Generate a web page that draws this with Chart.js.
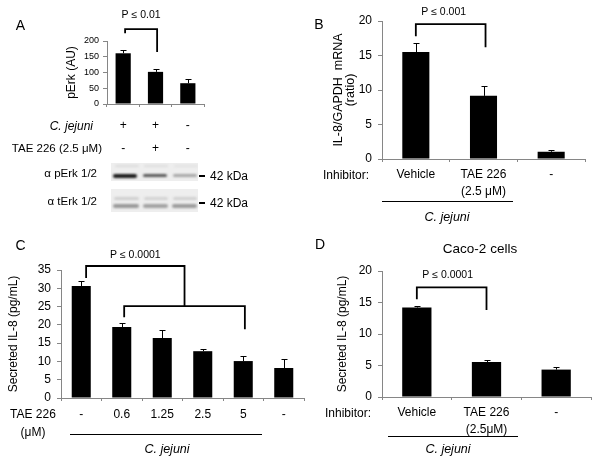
<!DOCTYPE html>
<html><head><meta charset="utf-8">
<script src="https://cdn.jsdelivr.net/npm/chart.js@4"></script>
<style>
html,body{margin:0;padding:0;background:#fff;}
#fig{position:relative;width:603px;height:464px;overflow:hidden;font-family:"Liberation Sans",Arial,sans-serif;color:#000;}
canvas{position:absolute;}
.t{position:absolute;white-space:nowrap;line-height:1;}
.c{transform:translate(-50%,-50%);}
.l{transform:translate(0,-50%);}
.r{transform:translate(-100%,-50%);}
.hl{position:absolute;height:0;border-top:1px solid #000;}
.blot{position:absolute;background:#eeeeee;overflow:hidden;}
.band{position:absolute;border-radius:2px;filter:blur(1px);}
</style></head>
<body>
<div id="fig">
  <canvas id="cA" width="300" height="232" style="left:0;top:0"></canvas>
  <canvas id="cB" width="303" height="232" style="left:300px;top:0"></canvas>
  <canvas id="cC" width="310" height="232" style="left:0;top:232px"></canvas>
  <canvas id="cD" width="303" height="232" style="left:300px;top:232px"></canvas>

  <!-- panel letters -->
  <div class="t c" style="left:20.5px;top:24.5px;font-size:14px">A</div>
  <div class="t c" style="left:319px;top:23.5px;font-size:14px">B</div>
  <div class="t c" style="left:20.5px;top:245px;font-size:14px">C</div>
  <div class="t c" style="left:320px;top:244px;font-size:14px">D</div>

  <!-- panel A row labels and blot -->
  <div class="t r" style="left:93px;top:126px;font-size:12px;font-style:italic">C. jejuni</div>
  <div class="t r" style="left:102px;top:149px;font-size:11.5px">TAE 226 (2.5 μM)</div>
  <div class="t r" style="left:97px;top:174px;font-size:11.5px">α pErk 1/2</div>
  <div class="t r" style="left:97px;top:202px;font-size:11.5px">α tErk 1/2</div>
  <div class="blot" style="left:111px;top:163px;width:87px;height:18px">
    <div class="band" style="left:4px;top:2px;width:24px;height:2px;background:#dcdcdc"></div>
    <div class="band" style="left:33px;top:2px;width:24px;height:2px;background:#dedede"></div>
    <div class="band" style="left:63px;top:2px;width:24px;height:2px;background:#e2e2e2"></div>
    <div class="band" style="left:2px;top:11px;width:24px;height:4px;background:#1c1c1c"></div>
    <div class="band" style="left:32px;top:11px;width:24px;height:3px;background:#5a5a5a"></div>
    <div class="band" style="left:62px;top:11px;width:24px;height:3px;background:#a8a8a8"></div>
  </div>
  <div class="blot" style="left:111px;top:189px;width:87px;height:23px">
    <div class="band" style="left:3px;top:8px;width:25px;height:3px;background:#cfcfcf"></div>
    <div class="band" style="left:33px;top:8px;width:24px;height:3px;background:#d3d3d3"></div>
    <div class="band" style="left:62px;top:8px;width:24px;height:3px;background:#d1d1d1"></div>
    <div class="band" style="left:2px;top:15px;width:26px;height:4px;background:#999999"></div>
    <div class="band" style="left:32px;top:15px;width:25px;height:4px;background:#a2a2a2"></div>
    <div class="band" style="left:61px;top:15px;width:25px;height:4px;background:#9c9c9c"></div>
  </div>
  <div style="position:absolute;left:199px;top:175px;width:6px;height:2px;background:#000"></div>
  <div style="position:absolute;left:199px;top:202px;width:6px;height:2px;background:#000"></div>
  <div class="t l" style="left:210px;top:176px;font-size:12px">42 kDa</div>
  <div class="t l" style="left:210px;top:203px;font-size:12px">42 kDa</div>

  <!-- panel B extras -->
  <div class="t l" style="left:323px;top:175px;font-size:12px">Inhibitor:</div>
  <div class="hl" style="left:382px;top:201px;width:131px"></div>
  <div class="t c" style="left:447px;top:217px;font-size:12.5px;font-style:italic">C. jejuni</div>

  <!-- panel C extras -->
  <div class="t l" style="left:10px;top:414px;font-size:12px">TAE 226</div>
  <div class="t c" style="left:33px;top:432px;font-size:12px">(μM)</div>
  <div class="hl" style="left:70px;top:434px;width:192px"></div>
  <div class="t c" style="left:167px;top:449px;font-size:12.5px;font-style:italic">C. jejuni</div>

  <!-- panel D extras -->
  <div class="t c" style="left:480px;top:249px;font-size:13.5px">Caco-2 cells</div>
  <div class="t l" style="left:325px;top:413px;font-size:12px">Inhibitor:</div>
  <div class="hl" style="left:388px;top:436px;width:130px"></div>
  <div class="t c" style="left:448px;top:449px;font-size:12.5px;font-style:italic">C. jejuni</div>
</div>
<script>
// ---------- Data ----------
const aLabels = [['+', '-'], ['+', '+'], ['-', '-']];
const aValues = [161, 102, 66];
const aErrors = [10, 9, 12];
const aTicks = [0, 50, 100, 150, 200];
const aBracket = [0.06, 1.05, 238, 225, 165];
const aP = 'P ≤ 0.01';

const bLabels = ['Vehicle', ['TAE 226', '(2.5 μM)'], '-'];
const bValues = [15.5, 9.15, 1.05];
const bErrors = [1.3, 1.5, 0.3];
const bTicks = [0, 5, 10, 15, 20];
const bBracket = [0, 1.03, 19.55, 17.8, 16.2];
const bP = 'P ≤ 0.001';

const cLabels = ['-', '0.6', '1.25', '2.5', '5', '-'];
const cValues = [30.6, 19.4, 16.4, 12.8, 10.1, 8.2];
const cErrors = [1.5, 1.0, 2.3, 0.5, 1.3, 2.6];
const cTicks = [0, 5, 10, 15, 20, 25, 30, 35];
const cBracketUpper = [0.12, 2.55, 36.1, 32.8, 25.1];
const cBracketLower = [1.06, 4.04, 25.1, 22.1, 18.8];
const cP = 'P ≤ 0.0001';

const dLabels = ['Vehicle', ['TAE 226', '(2.5μM)'], '-'];
const dValues = [14.2, 5.55, 4.35];
const dErrors = [0.25, 0.25, 0.4];
const dTicks = [0, 5, 10, 15, 20];
const dBracket = [0, 1.0, 17.4, 15.5, 13.8];
const dP = 'P ≤ 0.0001';

// ---------- Drawing ----------
const FONT = '"Liberation Sans", Arial, sans-serif';
const AXIS = '#868686';
Chart.defaults.font.family = FONT;
Chart.defaults.color = '#000';

function overlay(errors, brackets, pText, pGap, pDx) {
  return {
    id: 'overlay',
    afterDatasetsDraw(chart) {
      const ctx = chart.ctx, xs = chart.scales.x, ys = chart.scales.y;
      const meta = chart.getDatasetMeta(0);
      const vals = chart.data.datasets[0].data;
      ctx.save();
      ctx.strokeStyle = '#000';
      ctx.lineWidth = 1;
      meta.data.forEach((bar, i) => {
        const x = Math.round(bar.x) + 0.5;
        const yTop = Math.round(ys.getPixelForValue(vals[i] + errors[i])) + 0.5;
        ctx.beginPath();
        ctx.moveTo(x, bar.y);
        ctx.lineTo(x, yTop);
        ctx.moveTo(x - 3, yTop);
        ctx.lineTo(x + 3, yTop);
        ctx.stroke();
      });
      ctx.lineWidth = 1.8;
      brackets.forEach(b => {
        const x1 = xs.getPixelForValue(b[0]), x2 = xs.getPixelForValue(b[1]);
        const yt = ys.getPixelForValue(b[2]);
        ctx.beginPath();
        ctx.moveTo(x1, ys.getPixelForValue(b[3]));
        ctx.lineTo(x1, yt);
        ctx.lineTo(x2, yt);
        ctx.lineTo(x2, ys.getPixelForValue(b[4]));
        ctx.stroke();
      });
      const b0 = brackets[0];
      const mid = (xs.getPixelForValue(b0[0]) + xs.getPixelForValue(b0[1])) / 2 + pDx;
      ctx.fillStyle = '#000';
      ctx.font = '10.5px ' + FONT;
      ctx.textAlign = 'center';
      ctx.textBaseline = 'middle';
      ctx.fillText(pText, mid, ys.getPixelForValue(b0[2]) - pGap);
      ctx.restore();
    }
  };
}

function barChart(id, p) {
  return new Chart(document.getElementById(id), {
    type: 'bar',
    data: {
      labels: p.labels,
      datasets: [{ data: p.values, backgroundColor: '#000', borderWidth: 0,
                   barPercentage: p.barPct, categoryPercentage: 1 }]
    },
    options: {
      responsive: false, animation: false, devicePixelRatio: 1,
      layout: { padding: { left: 0, top: p.top, right: p.right, bottom: 0 } },
      plugins: { legend: { display: false }, tooltip: { enabled: false } },
      scales: {
        x: {
          grid: { drawOnChartArea: false, tickLength: 3, color: AXIS },
          border: { color: AXIS, width: 1 },
          ticks: { autoSkip: false, maxRotation: 0, minRotation: 0, padding: p.xPad,
                   font: { size: 12, lineHeight: p.xLh }, color: '#000' },
          afterFit: s => { s.height = p.xH; }
        },
        y: {
          min: p.ticks[0], max: p.ticks[p.ticks.length - 1],
          ticks: { stepSize: p.ticks[1] - p.ticks[0], padding: p.yPad,
                   font: { size: p.yFs }, color: '#000' },
          grid: { drawOnChartArea: false, tickLength: 4, color: AXIS },
          border: { color: AXIS, width: 1 },
          title: { display: true, text: p.title, color: '#000',
                   font: { size: p.tFs, lineHeight: p.tLh },
                   padding: { top: p.tPad, bottom: 0 } },
          afterFit: s => { s.width = p.yW; }
        }
      }
    },
    plugins: [overlay(p.errors, p.brackets, p.pText, p.pGap, p.pDx)]
  });
}

barChart('cA', { labels: aLabels, values: aValues, errors: aErrors, ticks: aTicks,
  brackets: [aBracket], pText: aP, pGap: 14, pDx: 0, barPct: 0.47,
  top: 41, right: 96, xH: 128, yW: 107, xPad: 7.5, xLh: '23px', yPad: 4, yFs: 9,
  title: 'pErk (AU)', tFs: 12, tLh: 1.2, tPad: 64.8 });

barChart('cB', { labels: bLabels, values: bValues, errors: bErrors, ticks: bTicks,
  brackets: [bBracket], pText: bP, pGap: 12, pDx: -7, barPct: 0.4,
  top: 21, right: 18, xH: 73, yW: 82, xPad: 4.5, xLh: '17px', yPad: 6, yFs: 12,
  title: ['IL-8/GAPDH  mRNA', '(ratio)'], tFs: 12.5, tLh: '11.5px', tPad: 33 });

barChart('cC', { labels: cLabels, values: cValues, errors: cErrors, ticks: cTicks,
  brackets: [cBracketUpper, cBracketLower], pText: cP, pGap: 11, pDx: 0, barPct: 0.47,
  top: 38, right: 6, xH: 66, yW: 61, xPad: 6, xLh: 1.2, yPad: 6, yFs: 12,
  title: 'Secreted IL-8 (pg/mL)', tFs: 12, tLh: 1.2, tPad: 6.8 });

barChart('cD', { labels: dLabels, values: dValues, errors: dErrors, ticks: dTicks,
  brackets: [dBracket], pText: dP, pGap: 12, pDx: -4, barPct: 0.42,
  top: 39, right: 12, xH: 67, yW: 82, xPad: 4.5, xLh: '17px', yPad: 6, yFs: 12,
  title: 'Secreted IL-8 (pg/mL)', tFs: 12, tLh: 1.2, tPad: 35.8 });
</script>
</body></html>
